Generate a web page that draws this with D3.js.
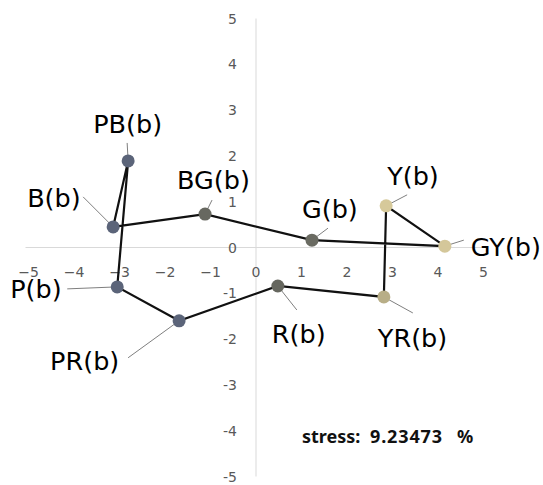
<!DOCTYPE html>
<html lang="en">
<head>
<meta charset="utf-8">
<title>stress plot</title>
<script src="https://d3js.org/d3.v7.min.js"></script>
<style>
  body { margin: 0; background: #fff; }
  svg { display: block; font-family: "DejaVu Sans", "Noto Sans", sans-serif; }
  .tick-label { fill: #595959; font-size: 14px; }
  .pt-label { fill: #000; font-size: 25.5px; }
</style>
</head>
<body>
<svg width="543" height="485"></svg>
<script>
// point names, in drawing order round the loop
var names = ["B(b)", "PB(b)", "P(b)", "PR(b)", "R(b)", "YR(b)", "Y(b)", "GY(b)", "G(b)", "BG(b)"];
var xs = [-3.14, -2.81, -3.05, -1.69, 0.48, 2.81, 2.86, 4.15, 1.23, -1.12];
var ys = [0.45, 1.89, -0.86, -1.60, -0.84, -1.08, 0.91, 0.03, 0.16, 0.73];
var fills = ["#5b6479", "#5b6479", "#5b6479", "#5b6479", "#66675f", "#b8ae87", "#d6c99a", "#d4c79a", "#6a6b62", "#676860"];

var ticks = [-5, -4, -3, -2, -1, 0, 1, 2, 3, 4, 5];
var stressValue = "9.23473";

// label placement (pixels relative to the point): text start, baseline, leader end
var labelDx = [-86, -35, -107, -129, -6, -6, 1, 26, -10, -28];
var labelDy = [-20, -28, 11, 49, 57, 50, -21, 10, -22, -25];
var leadDx = [-30, -1, -50, -51, 19, 29, 21, 19, 16, 7];
var leadDy = [-30, -18, 2, 37, 24, 16, -11, -6, -12, -14];

var svg = d3.select("svg");
var x = d3.scaleLinear().domain([-5, 5]).range([28.5, 483.5]);
var y = d3.scaleLinear().domain([-5, 5]).range([476.5, 18.5]);

// axes through the origin
svg.append("line")
  .attr("x1", x(-5) - 3).attr("x2", x(5) + 3)
  .attr("y1", y(0)).attr("y2", y(0))
  .attr("stroke", "#d9d9d9").attr("stroke-width", 1);
svg.append("line")
  .attr("x1", x(0)).attr("x2", x(0))
  .attr("y1", y(5)).attr("y2", y(-5))
  .attr("stroke", "#d9d9d9").attr("stroke-width", 1);

svg.selectAll(".xt").data(ticks).enter().append("text")
  .attr("class", "tick-label")
  .attr("x", function(d) { return x(d); })
  .attr("y", y(0) + 29)
  .attr("text-anchor", "middle")
  .text(function(d) { return d < 0 ? "\u2212" + (-d) : d; });

svg.selectAll(".yt").data(ticks).enter().append("text")
  .attr("class", "tick-label")
  .attr("x", x(0) - 19)
  .attr("y", function(d) { return y(d) + 5; })
  .attr("text-anchor", "end")
  .text(function(d) { return d; });

var pts = names.map(function(n, i) { return {name: n, x: xs[i], y: ys[i], fill: fills[i], i: i}; });

// leader lines
svg.selectAll(".lead").data(pts).enter().append("line")
  .attr("x1", function(d) { return x(d.x); })
  .attr("y1", function(d) { return y(d.y); })
  .attr("x2", function(d) { return x(d.x) + leadDx[d.i]; })
  .attr("y2", function(d) { return y(d.y) + leadDy[d.i]; })
  .attr("stroke", "#7f7f7f").attr("stroke-width", 1);

// closed loop
svg.append("path")
  .datum(pts)
  .attr("d", d3.line().x(function(d) { return x(d.x); }).y(function(d) { return y(d.y); }).curve(d3.curveLinearClosed))
  .attr("fill", "none").attr("stroke", "#111").attr("stroke-width", 2.2);

svg.selectAll(".pt").data(pts).enter().append("circle")
  .attr("cx", function(d) { return x(d.x); })
  .attr("cy", function(d) { return y(d.y); })
  .attr("r", 6.5)
  .attr("fill", function(d) { return d.fill; });

svg.selectAll(".lbl").data(pts).enter().append("text")
  .attr("class", "pt-label")
  .attr("x", function(d) { return x(d.x) + labelDx[d.i]; })
  .attr("y", function(d) { return y(d.y) + labelDy[d.i]; })
  .text(function(d) { return d.name; });

// stress note
var note = svg.append("g").attr("font-family", "'Noto Sans', sans-serif")
  .attr("font-weight", "bold").attr("font-size", 18).attr("fill", "#111");
note.append("text").attr("x", 302).attr("y", 443).text("stress:");
note.append("text").attr("x", 370).attr("y", 443)
  .attr("textLength", 72).attr("lengthAdjust", "spacing").text(stressValue);
note.append("text").attr("x", 457).attr("y", 443).text("%");
</script>
</body>
</html>
